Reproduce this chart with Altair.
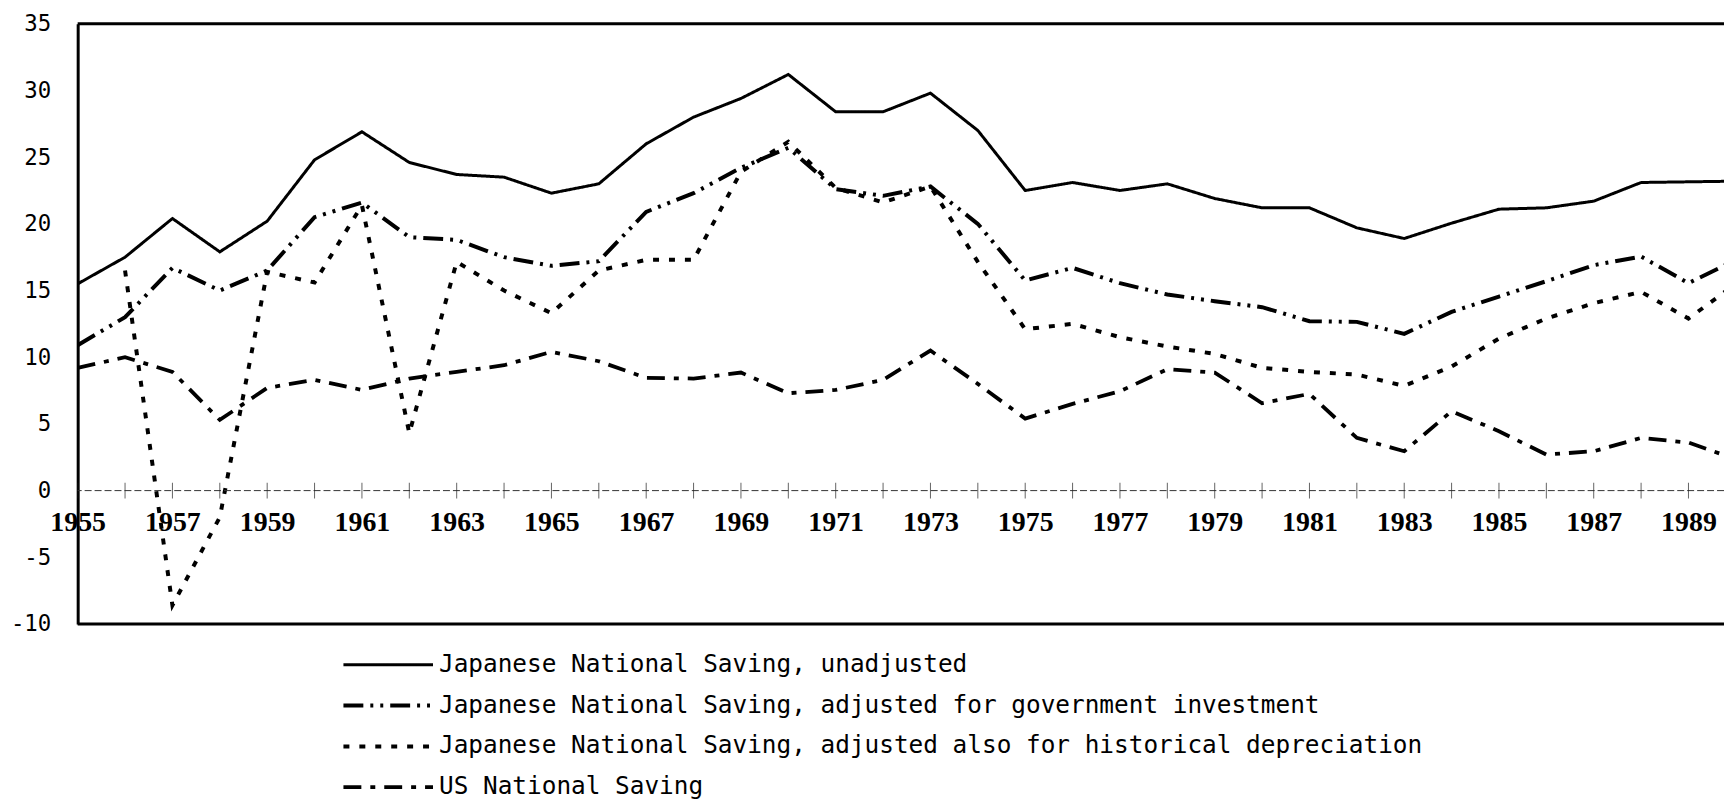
import altair as alt
import pandas as pd

# ---------------- data ----------------
years = list(range(1955, 1991))

unadjusted = [15.5, 17.5, 20.4, 17.9, 20.2, 24.8, 26.9, 24.6, 23.7, 23.5,
              22.3, 23.0, 26.0, 28.0, 29.4, 31.2, 28.4, 28.4, 29.8, 27.0,
              22.5, 23.1, 22.5, 23.0, 21.9, 21.2, 21.2, 19.7, 18.9, 20.05,
              21.1, 21.2, 21.7, 23.1, 23.15, 23.2]

gov_adjusted = [10.9, 13.0, 16.7, 15.0, 16.5, 20.5, 21.6, 19.0, 18.8, 17.5,
                16.85, 17.2, 20.9, 22.3, 24.2, 25.7, 22.6, 22.1, 22.8, 20.0,
                15.75, 16.7, 15.55, 14.7, 14.2, 13.75, 12.7, 12.65, 11.75, 13.4,
                14.55, 15.7, 16.9, 17.55, 15.55, 17.3]

hist_adjusted = [None, 16.5, -8.6, -2.0, 16.4, 15.6, 21.4, 4.3, 17.15, 15.0,
                 13.3, 16.5, 17.3, 17.3, 23.9, 26.15, 22.7, 21.6, 22.8, 17.15,
                 12.1, 12.5, 11.5, 10.8, 10.25, 9.2, 8.9, 8.7, 7.85, 9.3,
                 11.4, 12.9, 14.05, 14.9, 12.9, 15.5]

us_saving = [9.2, 10.0, 8.9, 5.3, 7.7, 8.3, 7.55, 8.4, 8.9, 9.4,
             10.4, 9.7, 8.45, 8.4, 8.85, 7.3, 7.55, 8.3, 10.5, 8.0,
             5.4, 6.5, 7.45, 9.1, 8.85, 6.55, 7.25, 3.95, 2.95, 5.95,
             4.45, 2.7, 2.95, 3.95, 3.6, 2.35]

series_names = [
    "Japanese National Saving, unadjusted",
    "Japanese National Saving, adjusted for government investment",
    "Japanese National Saving, adjusted also for historical depreciation",
    "US National Saving",
]

y_tick_values = list(range(-10, 40, 5))
x_label_years = list(range(1955, 1990, 2))
zero_tick_years = list(range(1955, 1991))
frame_values = [35, -10]

# ---------------- tables ----------------
rows = []
for name, vals in zip(series_names, [unadjusted, gov_adjusted, hist_adjusted, us_saving]):
    for yr, v in zip(years, vals):
        rows.append({"year": yr, "value": v, "series": name})
df = pd.DataFrame(rows)

ticks_df = pd.DataFrame({"year": zero_tick_years, "value": [0] * len(zero_tick_years)})
zero_df = pd.DataFrame({"value": [0]})
frame_df = pd.DataFrame({"value": frame_values})

# ---------------- styling ----------------
W, H = 1654, 603
xscale = alt.Scale(domain=[1955, 1989.75], nice=False, zero=False)
yscale = alt.Scale(domain=[-10, 35], nice=False, zero=False)

x_axis = alt.Axis(
    values=x_label_years, offset=-134, domain=False, ticks=False, tickSize=0,
    labelPadding=18, labelFont="Liberation Serif", labelFontSize=28,
    labelFontWeight="bold", labelColor="black", labelFlush=False,
    labelOverlap=False, labelExpr="'' + datum.value", grid=False, title=None,
)
y_axis = alt.Axis(
    values=y_tick_values, domain=True, domainColor="black", domainWidth=3,
    ticks=False, tickSize=0, labelPadding=27, labelFont="DejaVu Sans Mono",
    labelFontSize=22.5, labelColor="black", labelExpr="'' + datum.value",
    grid=False, title=None,
)

dashes = [[1, 0], [20, 7, 3, 7, 3, 7], [6, 10], [18, 9, 5, 9]]
widths = [3.0, 4.0, 4.0, 3.8]

lines = alt.Chart(df).mark_line(clip=True, color="black").encode(
    x=alt.X("year:Q", scale=xscale, axis=x_axis),
    y=alt.Y("value:Q", scale=yscale, axis=y_axis),
    strokeDash=alt.StrokeDash(
        "series:N",
        sort=series_names,
        scale=alt.Scale(domain=series_names, range=dashes),
        legend=alt.Legend(
            title=None, orient="none", legendX=265, legendY=623.5, direction="vertical",
            symbolType="stroke", symbolSize=8100, symbolStrokeWidth=3,
            symbolStrokeColor="black", clipHeight=41, rowPadding=0,
            labelFont="DejaVu Sans Mono", labelFontSize=24.5, labelColor="black",
            labelLimit=2000, labelOffset=4, padding=0,
        ),
    ),
    strokeWidth=alt.StrokeWidth(
        "series:N",
        scale=alt.Scale(type="ordinal", domain=series_names, range=widths),
        legend=None,
    ),
)

frame = alt.Chart(frame_df).mark_rule(color="black", strokeWidth=3).encode(
    y=alt.Y("value:Q", scale=yscale, axis=y_axis)
)

zero_line = alt.Chart(zero_df).mark_rule(color="#333333", strokeWidth=1, strokeDash=[7, 3]).encode(
    y=alt.Y("value:Q", scale=yscale, axis=y_axis)
)

zero_ticks = alt.Chart(ticks_df).mark_tick(
    orient="vertical", size=16, thickness=1, color="#222222", clip=True
).encode(
    x=alt.X("year:Q", scale=xscale, axis=x_axis),
    y=alt.Y("value:Q", scale=yscale, axis=y_axis),
)

chart = (
    alt.layer(lines, frame, zero_line, zero_ticks)
    .properties(
        width=W,
        height=H,
        padding={"left": 70, "top": 14, "right": 0, "bottom": 174},
        autosize=alt.AutoSizeParams(type="none"),
        background="white",
    )
    .configure_view(strokeWidth=0)
)

chart.save("out.html", embed_options={"renderer": "svg", "actions": False})
